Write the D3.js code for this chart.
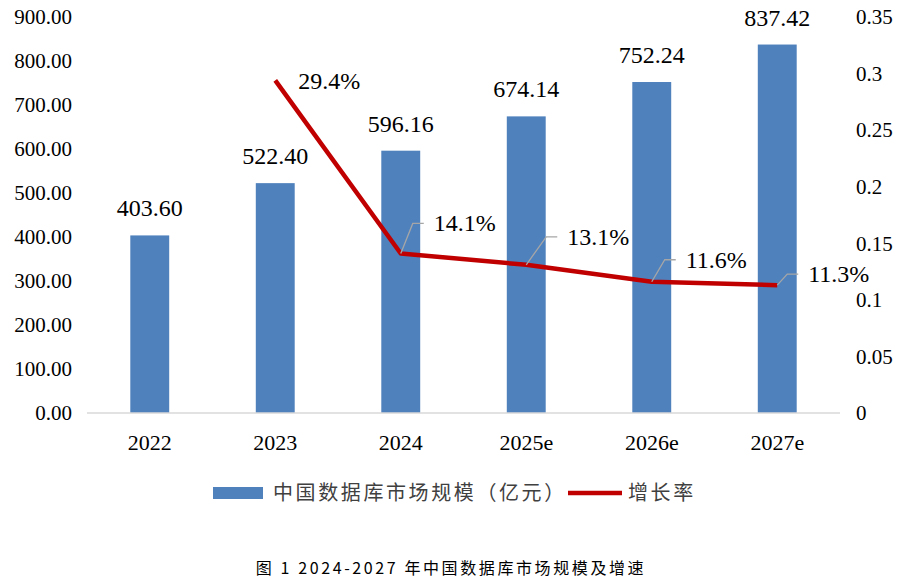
<!DOCTYPE html>
<html>
<head>
<meta charset="utf-8">
<script src="https://cdn.jsdelivr.net/npm/d3@7"></script>
<style>
  body { margin: 0; background: #fff; }
  svg { display: block; }
</style>
</head>
<body>
<div id="chart"></div>
<script>
// Data
const years = ["2022", "2023", "2024", "2025e", "2026e", "2027e"];
const marketSize = [403.60, 522.40, 596.16, 674.14, 752.24, 837.42];
const growthRate = [null, 0.294, 0.141, 0.131, 0.116, 0.113];
const growthLabels = ["", "29.4%", "14.1%", "13.1%", "11.6%", "11.3%"];
const leftTicks = [0, 100, 200, 300, 400, 500, 600, 700, 800, 900];
const rightTicks = [0, 0.05, 0.1, 0.15, 0.2, 0.25, 0.3, 0.35];
const legendNames = ["中国数据库市场规模（亿元）", "增长率"];
const caption = "图 1 2024-2027 年中国数据库市场规模及增速";

// Label placement for the growth line (leader elbow offset from the point)
const labelLayout = [null, { dx: 23, dy: 1, leader: false },
    { dx: 12, dy: -30, leader: true }, { dx: 20, dy: -28, leader: true },
    { dx: 13, dy: -22, leader: true }, { dx: 10, dy: -11, leader: true }];

const W = 906, H = 582;
const margin = { top: 17, right: 66, bottom: 169, left: 87 };
const width = W - margin.left - margin.right;
const height = H - margin.top - margin.bottom;

const serif = '"Liberation Serif"';
const cjk = '"Noto Sans CJK SC"';
const barColor = "#4F81BD";
const lineColor = "#C00000";

const root = d3.select("#chart")
    .append("svg")
    .attr("width", W)
    .attr("height", H);

const svg = root.append("g")
    .attr("transform", `translate(${margin.left},${margin.top})`);

const x = d3.scaleBand()
    .domain(years)
    .range([0, width])
    .paddingInner(0.69)
    .paddingOuter(0.345);

const y = d3.scaleLinear().domain([0, 900]).range([height, 0]);
const y2 = d3.scaleLinear().domain([0, 0.35]).range([height, 0]);

function styleAxis(g, size) {
    g.attr("font-family", null).attr("font-size", null);
    g.select(".domain").remove();
    g.selectAll("text")
        .style("font-family", serif)
        .style("font-size", size)
        .attr("fill", "#000");
}

// Axes
svg.append("g")
    .call(d3.axisLeft(y).tickValues(leftTicks).tickSize(0).tickPadding(15).tickFormat(d3.format(".2f")))
    .call(styleAxis, "21px");

svg.append("g")
    .attr("transform", `translate(${width},0)`)
    .call(d3.axisRight(y2).tickValues(rightTicks).tickSize(0).tickPadding(16).tickFormat(d => String(+d.toFixed(2))))
    .call(styleAxis, "21px");

svg.append("g")
    .attr("transform", `translate(0,${height})`)
    .call(d3.axisBottom(x).tickSize(0).tickPadding(21))
    .call(styleAxis, "22px");

const barData = years.map((d, i) => ({ year: d, value: marketSize[i] }));

// Bars
svg.selectAll(".bar")
    .data(barData)
    .enter()
    .append("rect")
    .attr("class", "bar")
    .attr("x", d => x(d.year))
    .attr("width", x.bandwidth())
    .attr("y", d => y(d.value))
    .attr("height", d => height - y(d.value))
    .attr("fill", barColor);

// Baseline
svg.append("line")
    .attr("x1", 0)
    .attr("x2", width)
    .attr("y1", height)
    .attr("y2", height)
    .attr("stroke", "#D9D9D9")
    .attr("stroke-width", 1.5);

// Bar value labels
svg.selectAll(".bar-label")
    .data(barData)
    .enter()
    .append("text")
    .attr("class", "bar-label")
    .attr("x", d => x(d.year) + x.bandwidth() / 2)
    .attr("y", d => y(d.value) - 19)
    .attr("text-anchor", "middle")
    .style("font-family", serif)
    .style("font-size", "24px")
    .attr("fill", "#000")
    .text(d => d.value.toFixed(2));

// Growth line
const growth = years.map((d, i) => ({ year: d, rate: growthRate[i], label: growthLabels[i], layout: labelLayout[i] }))
    .filter(d => d.rate !== null);

const cx = d => x(d.year) + x.bandwidth() / 2;

svg.append("path")
    .datum(growth)
    .attr("fill", "none")
    .attr("stroke", lineColor)
    .attr("stroke-width", 4.5)
    .attr("stroke-linejoin", "round")
    .attr("d", d3.line().x(cx).y(d => y2(d.rate)));

// Leader lines
svg.selectAll(".leader")
    .data(growth.filter(d => d.layout.leader))
    .enter()
    .append("polyline")
    .attr("class", "leader")
    .attr("fill", "none")
    .attr("stroke", "#A6A6A6")
    .attr("stroke-width", 1.3)
    .attr("points", d => {
        const px = cx(d), py = y2(d.rate);
        const ex = px + d.layout.dx, ey = py + d.layout.dy;
        return `${px},${py} ${ex},${ey} ${ex + 11},${ey}`;
    });

svg.selectAll(".rate-label")
    .data(growth)
    .enter()
    .append("text")
    .attr("class", "rate-label")
    .attr("x", d => cx(d) + d.layout.dx + (d.layout.leader ? 21 : 0))
    .attr("y", d => y2(d.rate) + d.layout.dy)
    .attr("dy", "0.33em")
    .style("font-family", serif)
    .style("font-size", "24px")
    .attr("fill", "#000")
    .text(d => d.label);

// Legend
const legend = root.append("g");
legend.append("rect")
    .attr("x", 213).attr("y", 487)
    .attr("width", 50).attr("height", 12)
    .attr("fill", barColor);
legend.append("text")
    .attr("x", 273).attr("y", 493)
    .attr("dy", "0.36em")
    .style("font-family", cjk)
    .style("font-size", "20px")
    .style("letter-spacing", "2.6px")
    .attr("fill", "#404040")
    .text(legendNames[0]);
legend.append("line")
    .attr("x1", 568).attr("x2", 622)
    .attr("y1", 493).attr("y2", 493)
    .attr("stroke", lineColor)
    .attr("stroke-width", 4.5);
legend.append("text")
    .attr("x", 628).attr("y", 493)
    .attr("dy", "0.36em")
    .style("font-family", cjk)
    .style("font-size", "20px")
    .style("letter-spacing", "2.6px")
    .attr("fill", "#404040")
    .text(legendNames[1]);

// Caption
root.append("text")
    .attr("x", 451).attr("y", 568)
    .attr("dy", "0.36em")
    .attr("text-anchor", "middle")
    .style("font-family", cjk)
    .style("font-size", "16px")
    .style("letter-spacing", "2.6px")
    .attr("fill", "#000")
    .text(caption);
</script>
</body>
</html>
